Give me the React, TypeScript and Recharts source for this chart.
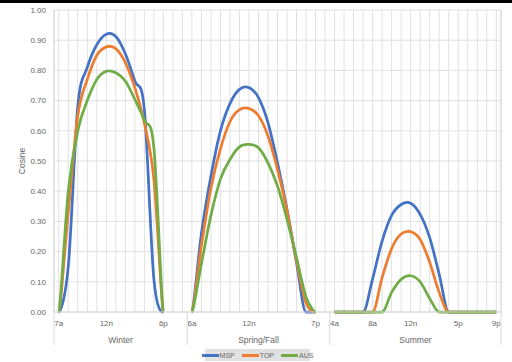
import {
  CartesianGrid,
  Legend,
  Line,
  LineChart,
  ReferenceLine,
  XAxis,
  YAxis,
} from "recharts";

const seriesNames = ["MSP", "TOP", "AUS"];
const seriesColors = ["#4472C4", "#ED7D31", "#70AD47"];

const yTicks = [0, 0.1, 0.2, 0.3, 0.4, 0.5, 0.6, 0.7, 0.8, 0.9, 1.0];

// hours per season (the last slots of winter / spring have no readings)
const winterHours = ["7a", "8a", "9a", "10a", "11a", "12n", "1p", "2p", "3p", "4p", "5p", "6p", "7p", "8p"];
const springHours = ["6a", "7a", "8a", "9a", "10a", "11a", "12n", "1p", "2p", "3p", "4p", "5p", "6p", "7p", "8p"];
const summerHours = ["4a", "5a", "6a", "7a", "8a", "9a", "10a", "11a", "12n", "1p", "2p", "3p", "4p", "5p", "6p", "7p", "8p", "9p"];

const winterLabels = ["7a", "12n", "6p"];
const springLabels = ["6a", "12n", "7p"];
const summerLabels = ["4a", "8a", "12n", "5p", "9p"];

const winterMSP = [0, 0.15, 0.68, 0.81, 0.885, 0.92, 0.912, 0.855, 0.765, 0.67, 0.11, 0];
const winterTOP = [0, 0.33, 0.65, 0.77, 0.85, 0.878, 0.872, 0.826, 0.743, 0.625, 0.44, 0];
const winterAUS = [0, 0.4, 0.6, 0.7, 0.77, 0.797, 0.792, 0.765, 0.704, 0.635, 0.545, 0];

const springMSP = [0, 0.26, 0.45, 0.6, 0.69, 0.737, 0.743, 0.71, 0.627, 0.494, 0.34, 0.163, 0, 0];
const springTOP = [0, 0.22, 0.41, 0.54, 0.63, 0.67, 0.674, 0.65, 0.583, 0.472, 0.334, 0.169, 0.03, 0];
const springAUS = [0, 0.16, 0.32, 0.44, 0.505, 0.547, 0.555, 0.544, 0.494, 0.417, 0.307, 0.18, 0.05, 0];

const summerMSP = [0, 0, 0, 0, 0.11, 0.235, 0.32, 0.356, 0.36, 0.323, 0.246, 0.125, 0, 0, 0, 0, 0, 0];
const summerTOP = [0, 0, 0, 0, 0, 0.114, 0.21, 0.258, 0.266, 0.24, 0.165, 0.065, 0, 0, 0, 0, 0, 0];
const summerAUS = [0, 0, 0, 0, 0, 0, 0.065, 0.108, 0.12, 0.1, 0.045, 0, 0, 0, 0, 0, 0, 0];

const groups = [
  { name: "Winter", hours: winterHours, labels: winterLabels, values: [winterMSP, winterTOP, winterAUS] },
  { name: "Spring/Fall", hours: springHours, labels: springLabels, values: [springMSP, springTOP, springAUS] },
  { name: "Summer", hours: summerHours, labels: summerLabels, values: [summerMSP, summerTOP, summerAUS] },
];

type Row = { i: number; hour: string; label: string; [k: string]: any };

const data: Row[] = [];
const groupBounds: number[] = [-0.5];
const groupCenters: number[] = [];
groups.forEach((g) => {
  const start = data.length;
  g.hours.forEach((h, k) => {
    const row: Row = { i: data.length, hour: h, label: g.labels.includes(h) ? h : "" };
    seriesNames.forEach((s, si) => {
      const v = g.values[si][k];
      row[s] = v === undefined ? null : v;
    });
    data.push(row);
  });
  groupCenters.push((start + data.length - 1) / 2);
  groupBounds.push(data.length - 0.5);
});

const lastX = data.length - 0.5;
const axisGray = "#d9d9d9";
const textGray = "#666";

// Excel-like smoothed line: Catmull-Rom, but flat runs stay flat (no dips below zero)
function excelSmooth(context: any) {
  let pts: number[][] = [];
  return {
    areaStart() {},
    areaEnd() {},
    lineStart() {
      pts = [];
    },
    lineEnd() {
      const n = pts.length;
      if (!n) return;
      context.moveTo(pts[0][0], pts[0][1]);
      for (let k = 0; k < n - 1; k++) {
        const p0 = pts[k - 1] || pts[k];
        const p1 = pts[k];
        const p2 = pts[k + 1];
        const p3 = pts[k + 2] || p2;
        if (p1[1] === p2[1]) {
          context.lineTo(p2[0], p2[1]);
          continue;
        }
        const t1y = p0[1] === p1[1] ? 0 : (p2[1] - p0[1]) / 6;
        const t2y = p2[1] === p3[1] ? 0 : (p3[1] - p1[1]) / 6;
        context.bezierCurveTo(
          p1[0] + (p2[0] - p0[0]) / 6,
          p1[1] + t1y,
          p2[0] - (p3[0] - p1[0]) / 6,
          p2[1] - t2y,
          p2[0],
          p2[1]
        );
      }
    },
    point(x: number, y: number) {
      pts.push([+x, +y]);
    },
  };
}

function GroupTick(props: any) {
  const { x, y, payload } = props;
  const ci = groupCenters.indexOf(payload.value);
  if (ci >= 0) {
    return (
      <text x={x} y={y + 15} textAnchor="middle" fontSize={8.5} fill={textGray}>
        {groups[ci].name}
      </text>
    );
  }
  return <line x1={x} x2={x} y1={y - 16} y2={y + 17} stroke={axisGray} strokeWidth={1} />;
}

function LegendBox() {
  return (
    <div
      style={{
        display: "flex",
        alignItems: "center",
        justifyContent: "center",
        gap: 7,
        background: "#e1e1e1",
        height: 12,
        fontSize: 7,
        color: textGray,
      }}
    >
      {seriesNames.map((s, i) => (
        <div key={s} style={{ display: "flex", alignItems: "center" }}>
          <span style={{ width: 17, height: 3, background: seriesColors[i], display: "inline-block" }} />
          <span style={{ marginLeft: 1 }}>{s}</span>
        </div>
      ))}
    </div>
  );
}

export default function App() {
  return (
    <div
      style={{
        position: "absolute",
        left: 0,
        top: 0,
        width: 512,
        height: 362,
        background: "#fff",
        fontFamily: "'Liberation Sans', Arial, sans-serif",
        overflow: "hidden",
      }}
    >
      <div style={{ position: "absolute", left: 0, top: 0, width: 512, height: 3, background: "#000" }} />
      <LineChart
        width={512}
        height={362}
        data={data}
        margin={{ top: 10, right: 11, bottom: 0, left: 0 }}
      >
        <CartesianGrid xAxisId="a" stroke="#e0e0e0" />
        <XAxis
          xAxisId="a"
          type="number"
          dataKey="i"
          domain={[-0.5, lastX]}
          ticks={data.map((d) => d.i)}
          interval={0}
          tickFormatter={(v: number) => data[v]?.label ?? ""}
          tickLine={false}
          axisLine={{ stroke: axisGray }}
          height={16}
          tick={{ fontSize: 8, fill: textGray }}
        />
        <XAxis
          xAxisId="b"
          type="number"
          dataKey="i"
          domain={[-0.5, lastX]}
          ticks={[...groupBounds, ...groupCenters]}
          interval={0}
          tick={<GroupTick />}
          tickLine={false}
          axisLine={false}
          tickSize={0}
          tickMargin={0}
          height={22}
        />
        <YAxis
          width={54}
          domain={[0, 1]}
          ticks={yTicks}
          interval={0}
          tickFormatter={(v: number) => v.toFixed(2)}
          axisLine={false}
          tickLine={false}
          tick={{ fontSize: 8, fill: textGray }}
          label={{ value: "Cosine", angle: -90, position: "center", dx: -5, fontSize: 8.5, fill: textGray }}
        />
        <ReferenceLine xAxisId="a" x={-0.5} stroke={axisGray} />
        <ReferenceLine xAxisId="a" x={lastX} stroke={axisGray} />
        {seriesNames.map((s, i) => (
          <Line
            key={s}
            xAxisId="a"
            type={excelSmooth as any}
            dataKey={s}
            stroke={seriesColors[i]}
            strokeWidth={2.75}
            dot={false}
            isAnimationActive={false}
          />
        ))}
        <Legend
          verticalAlign="bottom"
          content={() => <LegendBox />}
          wrapperStyle={{ left: 205, top: 349, width: 105, height: 12 }}
        />
      </LineChart>
    </div>
  );
}
